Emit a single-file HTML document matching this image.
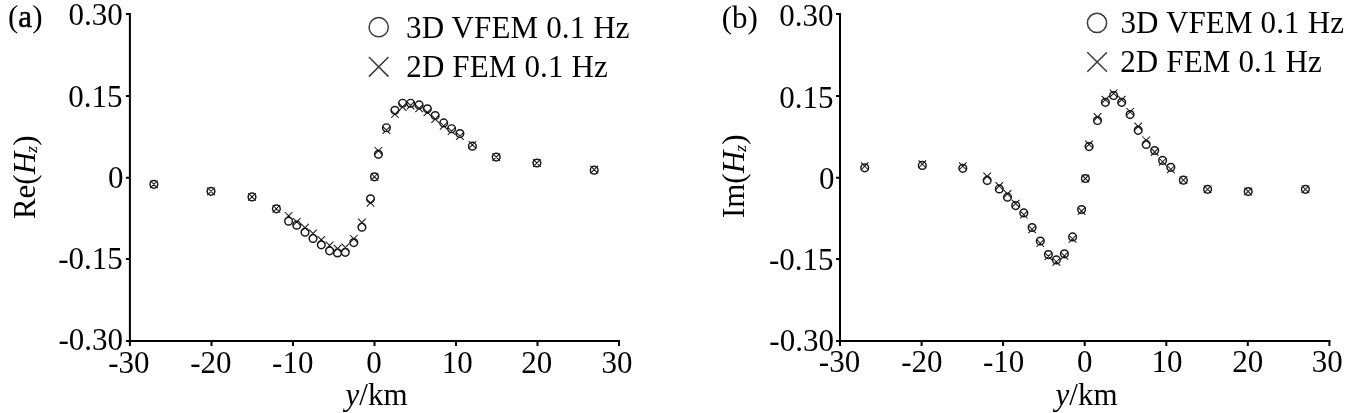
<!DOCTYPE html>
<html lang="en"><head><meta charset="utf-8"><title>Re(Hz) and Im(Hz) versus y/km</title>
<style>
html,body{margin:0;padding:0;background:#fff;}
body{width:1366px;height:413px;overflow:hidden;}
svg{display:block;}
text{font-family:"Liberation Serif", "Times New Roman", serif;font-size:31px;fill:#000;}
</style></head><body>
<svg width="1366" height="413" viewBox="0 0 1366 413">
<rect width="1366" height="413" fill="#fff"/>
<g stroke="#000" stroke-width="2" fill="none">
<path d="M129.9 13.0V342.1"/>
<path d="M125.9 341.1H620.0"/>
<path d="M125.9 14.0H129.9M125.9 96.1H129.9M125.9 177.8H129.9M125.9 259.0H129.9M129.9 341.1V346.1M211.5 341.1V346.1M293.0 341.1V346.1M374.5 341.1V346.1M456.0 341.1V346.1M537.5 341.1V346.1M619.0 341.1V346.1"/>
</g>
<text x="376.6" y="404.7" text-anchor="middle"><tspan font-style="italic">y</tspan>/km</text>
<text transform="translate(34.5 177.3) rotate(-90)" text-anchor="middle">Re(<tspan font-style="italic">H</tspan><tspan font-style="italic" font-size="17.5" dx="-0.7" dy="2.2">z</tspan><tspan dy="-2.2">)</tspan></text>
<circle cx="378.7" cy="27.2" r="9.6" fill="none" stroke="#3a3a3a" stroke-width="1.5"/>
<path d="M368.9 57.0l19.6 19.6m0 -19.6l-19.6 19.6" fill="none" stroke="#3a3a3a" stroke-width="1.5"/>
<g fill="none" stroke="#161616" stroke-width="1.45">
<circle cx="153.9" cy="184.3" r="3.85"/>
<circle cx="211.0" cy="191.3" r="3.85"/>
<circle cx="252.0" cy="196.9" r="3.85"/>
<circle cx="276.4" cy="208.8" r="3.85"/>
<circle cx="288.6" cy="221.2" r="3.85"/>
<circle cx="296.8" cy="225.2" r="3.85"/>
<circle cx="305.0" cy="232.2" r="3.85"/>
<circle cx="313.0" cy="238.4" r="3.85"/>
<circle cx="321.3" cy="244.8" r="3.85"/>
<circle cx="329.6" cy="250.8" r="3.85"/>
<circle cx="337.5" cy="252.9" r="3.85"/>
<circle cx="345.3" cy="252.3" r="3.85"/>
<circle cx="353.8" cy="242.6" r="3.85"/>
<circle cx="361.9" cy="227.2" r="3.85"/>
<circle cx="370.5" cy="198.8" r="3.85"/>
<circle cx="374.5" cy="176.8" r="3.85"/>
<circle cx="378.4" cy="154.3" r="3.85"/>
<circle cx="386.4" cy="127.7" r="3.85"/>
<circle cx="394.9" cy="110.3" r="3.85"/>
<circle cx="402.6" cy="103.2" r="3.85"/>
<circle cx="410.6" cy="103.2" r="3.85"/>
<circle cx="419.1" cy="104.9" r="3.85"/>
<circle cx="427.4" cy="108.8" r="3.85"/>
<circle cx="435.2" cy="115.5" r="3.85"/>
<circle cx="443.7" cy="122.9" r="3.85"/>
<circle cx="451.6" cy="128.7" r="3.85"/>
<circle cx="459.9" cy="133.5" r="3.85"/>
<circle cx="472.4" cy="146.2" r="3.85"/>
<circle cx="496.2" cy="157.1" r="3.85"/>
<circle cx="536.9" cy="163.0" r="3.85"/>
<circle cx="594.2" cy="170.2" r="3.85"/>
<path d="M150.1 180.5l7.6 7.6m0 -7.6l-7.6 7.6M207.2 187.5l7.6 7.6m0 -7.6l-7.6 7.6M248.2 193.1l7.6 7.6m0 -7.6l-7.6 7.6M272.6 205.0l7.6 7.6m0 -7.6l-7.6 7.6M284.8 212.0l7.6 7.6m0 -7.6l-7.6 7.6M293.0 218.1l7.6 7.6m0 -7.6l-7.6 7.6M301.2 223.9l7.6 7.6m0 -7.6l-7.6 7.6M309.2 229.7l7.6 7.6m0 -7.6l-7.6 7.6M317.5 236.1l7.6 7.6m0 -7.6l-7.6 7.6M325.8 241.7l7.6 7.6m0 -7.6l-7.6 7.6M333.7 244.8l7.6 7.6m0 -7.6l-7.6 7.6M341.5 243.7l7.6 7.6m0 -7.6l-7.6 7.6M350.0 235.0l7.6 7.6m0 -7.6l-7.6 7.6M358.1 218.7l7.6 7.6m0 -7.6l-7.6 7.6M366.7 199.0l7.6 7.6m0 -7.6l-7.6 7.6M370.7 173.0l7.6 7.6m0 -7.6l-7.6 7.6M374.6 147.0l7.6 7.6m0 -7.6l-7.6 7.6M382.6 126.3l7.6 7.6m0 -7.6l-7.6 7.6M391.1 110.4l7.6 7.6m0 -7.6l-7.6 7.6M398.8 103.2l7.6 7.6m0 -7.6l-7.6 7.6M406.8 101.7l7.6 7.6m0 -7.6l-7.6 7.6M415.3 104.6l7.6 7.6m0 -7.6l-7.6 7.6M423.6 108.5l7.6 7.6m0 -7.6l-7.6 7.6M431.4 115.2l7.6 7.6m0 -7.6l-7.6 7.6M439.9 122.0l7.6 7.6m0 -7.6l-7.6 7.6M447.8 127.4l7.6 7.6m0 -7.6l-7.6 7.6M456.1 132.3l7.6 7.6m0 -7.6l-7.6 7.6M468.6 141.0l7.6 7.6m0 -7.6l-7.6 7.6M492.4 153.3l7.6 7.6m0 -7.6l-7.6 7.6M533.1 159.2l7.6 7.6m0 -7.6l-7.6 7.6M590.4 165.8l7.6 7.6m0 -7.6l-7.6 7.6" stroke-width="1.05"/>
</g>
<g stroke="#000" stroke-width="2" fill="none">
<path d="M840.0 13.0V342.1"/>
<path d="M836.0 341.1H1330.4"/>
<path d="M836.0 14.0H840.0M836.0 96.1H840.0M836.0 177.8H840.0M836.0 259.0H840.0M840.0 341.1V346.1M921.6 341.1V346.1M1003.1 341.1V346.1M1084.7 341.1V346.1M1166.3 341.1V346.1M1247.8 341.1V346.1M1329.4 341.1V346.1"/>
</g>
<text x="1086.6" y="404.7" text-anchor="middle"><tspan font-style="italic">y</tspan>/km</text>
<text transform="translate(743.5 176.3) rotate(-90)" text-anchor="middle">Im(<tspan font-style="italic">H</tspan><tspan font-style="italic" font-size="17.5" dx="-0.7" dy="2.2">z</tspan><tspan dy="-2.2">)</tspan></text>
<circle cx="1097.0" cy="22.9" r="9.6" fill="none" stroke="#3a3a3a" stroke-width="1.5"/>
<path d="M1087.3 52.2l19.6 19.6m0 -19.6l-19.6 19.6" fill="none" stroke="#3a3a3a" stroke-width="1.5"/>
<g fill="none" stroke="#161616" stroke-width="1.45">
<circle cx="864.7" cy="167.8" r="3.85"/>
<circle cx="922.3" cy="165.4" r="3.85"/>
<circle cx="962.8" cy="168.3" r="3.85"/>
<circle cx="987.2" cy="180.4" r="3.85"/>
<circle cx="999.3" cy="188.9" r="3.85"/>
<circle cx="1007.5" cy="197.2" r="3.85"/>
<circle cx="1015.7" cy="205.6" r="3.85"/>
<circle cx="1023.8" cy="212.9" r="3.85"/>
<circle cx="1032.1" cy="227.5" r="3.85"/>
<circle cx="1040.3" cy="241.0" r="3.85"/>
<circle cx="1048.4" cy="254.6" r="3.85"/>
<circle cx="1056.4" cy="259.9" r="3.85"/>
<circle cx="1064.4" cy="253.8" r="3.85"/>
<circle cx="1072.6" cy="236.9" r="3.85"/>
<circle cx="1081.6" cy="209.5" r="3.85"/>
<circle cx="1085.4" cy="178.5" r="3.85"/>
<circle cx="1089.1" cy="146.6" r="3.85"/>
<circle cx="1097.5" cy="120.5" r="3.85"/>
<circle cx="1105.4" cy="102.3" r="3.85"/>
<circle cx="1113.6" cy="95.5" r="3.85"/>
<circle cx="1121.7" cy="102.3" r="3.85"/>
<circle cx="1130.1" cy="114.6" r="3.85"/>
<circle cx="1138.2" cy="130.3" r="3.85"/>
<circle cx="1146.2" cy="144.5" r="3.85"/>
<circle cx="1154.7" cy="150.5" r="3.85"/>
<circle cx="1162.6" cy="160.4" r="3.85"/>
<circle cx="1170.8" cy="167.3" r="3.85"/>
<circle cx="1183.4" cy="180.2" r="3.85"/>
<circle cx="1207.6" cy="189.3" r="3.85"/>
<circle cx="1248.2" cy="191.5" r="3.85"/>
<circle cx="1305.4" cy="189.3" r="3.85"/>
<path d="M860.9 162.4l7.6 7.6m0 -7.6l-7.6 7.6M918.5 160.4l7.6 7.6m0 -7.6l-7.6 7.6M959.0 162.4l7.6 7.6m0 -7.6l-7.6 7.6M983.4 172.6l7.6 7.6m0 -7.6l-7.6 7.6M995.5 182.2l7.6 7.6m0 -7.6l-7.6 7.6M1003.7 190.1l7.6 7.6m0 -7.6l-7.6 7.6M1011.9 199.8l7.6 7.6m0 -7.6l-7.6 7.6M1020.0 210.9l7.6 7.6m0 -7.6l-7.6 7.6M1028.3 225.5l7.6 7.6m0 -7.6l-7.6 7.6M1036.5 239.4l7.6 7.6m0 -7.6l-7.6 7.6M1044.6 252.5l7.6 7.6m0 -7.6l-7.6 7.6M1052.6 258.0l7.6 7.6m0 -7.6l-7.6 7.6M1060.6 252.0l7.6 7.6m0 -7.6l-7.6 7.6M1068.8 235.0l7.6 7.6m0 -7.6l-7.6 7.6M1077.8 207.2l7.6 7.6m0 -7.6l-7.6 7.6M1081.6 174.7l7.6 7.6m0 -7.6l-7.6 7.6M1085.3 140.6l7.6 7.6m0 -7.6l-7.6 7.6M1093.7 113.2l7.6 7.6m0 -7.6l-7.6 7.6M1101.6 95.8l7.6 7.6m0 -7.6l-7.6 7.6M1109.8 89.6l7.6 7.6m0 -7.6l-7.6 7.6M1117.9 95.8l7.6 7.6m0 -7.6l-7.6 7.6M1126.3 108.0l7.6 7.6m0 -7.6l-7.6 7.6M1134.4 122.7l7.6 7.6m0 -7.6l-7.6 7.6M1142.4 136.5l7.6 7.6m0 -7.6l-7.6 7.6M1150.9 148.2l7.6 7.6m0 -7.6l-7.6 7.6M1158.8 158.0l7.6 7.6m0 -7.6l-7.6 7.6M1167.0 165.5l7.6 7.6m0 -7.6l-7.6 7.6M1179.6 176.4l7.6 7.6m0 -7.6l-7.6 7.6M1203.8 185.5l7.6 7.6m0 -7.6l-7.6 7.6M1244.4 187.7l7.6 7.6m0 -7.6l-7.6 7.6M1301.6 185.5l7.6 7.6m0 -7.6l-7.6 7.6" stroke-width="1.05"/>
</g>
<text x="25.25" y="26.75" text-anchor="middle">(<tspan stroke="#000" stroke-width="0.55">a</tspan>)</text>
<text x="95.60" y="25.15" text-anchor="middle">0.30</text>
<text x="95.40" y="106.65" text-anchor="middle">0.15</text>
<text x="115.75" y="188.15" text-anchor="middle">0</text>
<text x="90.45" y="269.35" text-anchor="middle">-0.15</text>
<text x="90.70" y="349.75" text-anchor="middle">-0.30</text>
<text x="128.85" y="372.85" text-anchor="middle">-30</text>
<text x="210.85" y="372.85" text-anchor="middle">-20</text>
<text x="292.75" y="372.85" text-anchor="middle">-10</text>
<text x="374.10" y="372.95" text-anchor="middle">0</text>
<text x="457.25" y="372.85" text-anchor="middle">10</text>
<text x="536.70" y="372.85" text-anchor="middle">20</text>
<text x="617.05" y="372.85" text-anchor="middle">30</text>
<text x="739.85" y="27.65" text-anchor="middle">(b)</text>
<text x="806.45" y="26.05" text-anchor="middle">0.30</text>
<text x="806.25" y="107.85" text-anchor="middle">0.15</text>
<text x="826.70" y="189.35" text-anchor="middle">0</text>
<text x="801.25" y="270.35" text-anchor="middle">-0.15</text>
<text x="801.65" y="350.95" text-anchor="middle">-0.30</text>
<text x="839.50" y="372.15" text-anchor="middle">-30</text>
<text x="921.85" y="372.15" text-anchor="middle">-20</text>
<text x="1003.70" y="372.15" text-anchor="middle">-10</text>
<text x="1084.80" y="372.25" text-anchor="middle">0</text>
<text x="1166.90" y="372.15" text-anchor="middle">10</text>
<text x="1247.70" y="372.15" text-anchor="middle">20</text>
<text x="1327.20" y="372.15" text-anchor="middle">30</text>
<text x="517.85" y="38.25" text-anchor="middle" letter-spacing="0.15">3D VFEM 0.1 Hz</text>
<text x="507.15" y="77.35" text-anchor="middle" letter-spacing="0.15">2D FEM 0.1 Hz</text>
<text x="1232.25" y="33.15" text-anchor="middle" letter-spacing="0.15">3D VFEM 0.1 Hz</text>
<text x="1221.10" y="72.25" text-anchor="middle" letter-spacing="0.15">2D FEM 0.1 Hz</text>
</svg>
</body></html>
